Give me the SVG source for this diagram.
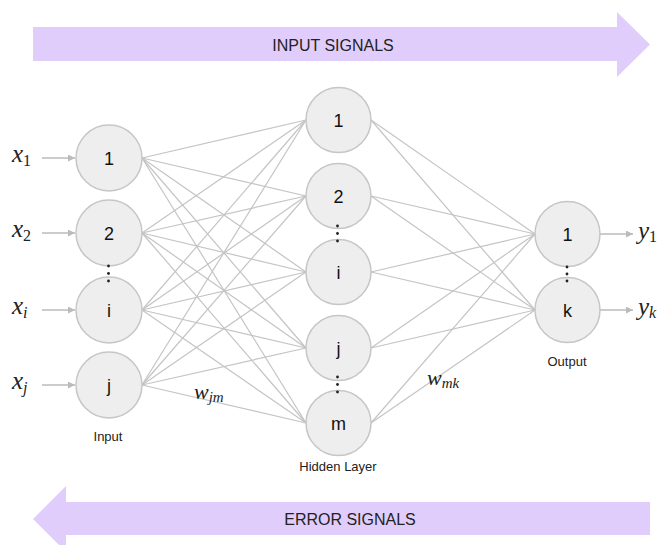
<svg xmlns="http://www.w3.org/2000/svg" width="662" height="545" viewBox="0 0 662 545">
<defs>
<style>
.bg{fill:#ffffff}
.band{fill:#e1cdfb}
.band-t{font-family:"Liberation Sans",Arial,sans-serif;font-size:16px;fill:#222;text-anchor:middle}
.node circle{fill:#eeeeee;stroke:#c6c6c6;stroke-width:1.5}
.node text{font-family:"Liberation Sans",Arial,sans-serif;font-size:18px;fill:#111;text-anchor:middle}
.conn line{stroke:#c4c4c4;stroke-width:1.2}
.io line{stroke:#bbbbbb;stroke-width:1.4}
.dot{fill:#222}
.lbl{font-family:"Liberation Sans",Arial,sans-serif;font-size:13px;fill:#222;text-anchor:middle}
.m{font-family:"Liberation Serif","Times New Roman",serif;font-style:italic;fill:#222}
.up{font-style:normal}
</style>
<marker id="ah" viewBox="0 0 10 10" refX="10" refY="5" markerWidth="9" markerHeight="7" markerUnits="userSpaceOnUse" orient="auto">
<path d="M0,0 L10,5 L0,10 z" fill="#bbbbbb"/>
</marker>
</defs>
<rect class="bg" x="0" y="0" width="662" height="545"/>

<g id="input-signals">
<polygon class="band" points="33,27 617,27 617,12 650,44.5 617,77 617,61 33,61"/>
<text class="band-t" x="333" y="50.5">INPUT SIGNALS</text>
</g>
<g id="error-signals">
<polygon class="band" points="650,502 66,502 66,486 33,519 66,552 66,535 650,535"/>
<text class="band-t" x="350" y="524.5">ERROR SIGNALS</text>
</g>

<g id="connectors" class="conn">
<line x1="142" y1="158" x2="306" y2="120"/><line x1="142" y1="158" x2="306" y2="196"/><line x1="142" y1="158" x2="306" y2="272"/><line x1="142" y1="158" x2="306" y2="348"/><line x1="142" y1="158" x2="306" y2="423"/>
<line x1="142" y1="233" x2="306" y2="120"/><line x1="142" y1="233" x2="306" y2="196"/><line x1="142" y1="233" x2="306" y2="272"/><line x1="142" y1="233" x2="306" y2="348"/><line x1="142" y1="233" x2="306" y2="423"/>
<line x1="142" y1="310" x2="306" y2="120"/><line x1="142" y1="310" x2="306" y2="196"/><line x1="142" y1="310" x2="306" y2="272"/><line x1="142" y1="310" x2="306" y2="348"/><line x1="142" y1="310" x2="306" y2="423"/>
<line x1="142" y1="385" x2="306" y2="120"/><line x1="142" y1="385" x2="306" y2="196"/><line x1="142" y1="385" x2="306" y2="272"/><line x1="142" y1="385" x2="306" y2="348"/><line x1="142" y1="385" x2="306" y2="423"/>
<line x1="371" y1="120" x2="535" y2="234"/><line x1="371" y1="120" x2="535" y2="310"/>
<line x1="371" y1="196" x2="535" y2="234"/><line x1="371" y1="196" x2="535" y2="310"/>
<line x1="371" y1="272" x2="535" y2="234"/><line x1="371" y1="272" x2="535" y2="310"/>
<line x1="371" y1="348" x2="535" y2="234"/><line x1="371" y1="348" x2="535" y2="310"/>
<line x1="371" y1="423" x2="535" y2="234"/><line x1="371" y1="423" x2="535" y2="310"/>
</g>

<g id="io-arrows" class="io">
<line x1="42" y1="158" x2="75" y2="158" marker-end="url(#ah)"/>
<line x1="42" y1="233" x2="75" y2="233" marker-end="url(#ah)"/>
<line x1="42" y1="310" x2="75" y2="310" marker-end="url(#ah)"/>
<line x1="42" y1="385" x2="75" y2="385" marker-end="url(#ah)"/>
<line x1="600" y1="234" x2="633" y2="234" marker-end="url(#ah)"/>
<line x1="600" y1="310" x2="633" y2="310" marker-end="url(#ah)"/>
</g>

<g id="in1" class="node"><circle cx="109" cy="158" r="33"/><text x="109" y="164.5">1</text></g>
<g id="in2" class="node"><circle cx="109" cy="233" r="33"/><text x="109" y="239.5">2</text></g>
<g id="ini" class="node"><circle cx="109" cy="310" r="33"/><text x="109" y="316.5">i</text></g>
<g id="inj" class="node"><circle cx="109" cy="385" r="33"/><text x="109" y="391.5">j</text></g>

<g id="h1" class="node"><circle cx="338.5" cy="120" r="32.5"/><text x="338.5" y="126.5">1</text></g>
<g id="h2" class="node"><circle cx="338.5" cy="196" r="32.5"/><text x="338.5" y="202.5">2</text></g>
<g id="hi" class="node"><circle cx="338.5" cy="272" r="32.5"/><text x="338.5" y="278.5">i</text></g>
<g id="hj" class="node"><circle cx="338.5" cy="348" r="32.5"/><text x="338.5" y="354.5">j</text></g>
<g id="hm" class="node"><circle cx="338.5" cy="423" r="32.5"/><text x="338.5" y="429.5">m</text></g>

<g id="o1" class="node"><circle cx="567.5" cy="234" r="32.5"/><text x="567.5" y="240.5">1</text></g>
<g id="ok" class="node"><circle cx="567.5" cy="310" r="32.5"/><text x="567.5" y="316.5">k</text></g>

<g id="ellipses">
<circle class="dot" cx="108.5" cy="266" r="1.4"/><circle class="dot" cx="108.5" cy="273.5" r="1.4"/><circle class="dot" cx="108.5" cy="281" r="1.4"/>
<circle class="dot" cx="337.5" cy="226" r="1.4"/><circle class="dot" cx="337.5" cy="233.5" r="1.4"/><circle class="dot" cx="337.5" cy="241" r="1.4"/>
<circle class="dot" cx="337.5" cy="377" r="1.4"/><circle class="dot" cx="337.5" cy="384.5" r="1.4"/><circle class="dot" cx="337.5" cy="392" r="1.4"/>
<circle class="dot" cx="567" cy="267" r="1.4"/><circle class="dot" cx="567" cy="274" r="1.4"/><circle class="dot" cx="567" cy="281" r="1.4"/>
</g>

<g id="labels">
<text class="lbl" x="108" y="441">Input</text>
<text class="lbl" x="338" y="471">Hidden Layer</text>
<text class="lbl" x="567" y="366">Output</text>
</g>

<g id="math" class="m">
<text x="12" y="162" font-size="25">x<tspan class="up" font-size="16" dy="4">1</tspan></text>
<text x="12" y="237" font-size="25">x<tspan class="up" font-size="16" dy="4">2</tspan></text>
<text x="12" y="314" font-size="25">x<tspan font-size="16" dy="4">i</tspan></text>
<text x="12" y="389" font-size="25">x<tspan font-size="16" dy="4">j</tspan></text>
<text x="638" y="239" font-size="25">y<tspan class="up" font-size="16" dy="3">1</tspan></text>
<text x="638" y="315" font-size="25">y<tspan font-size="16" dy="3">k</tspan></text>
<text x="194" y="399" font-size="22">w<tspan font-size="15" dy="3">jm</tspan></text>
<text x="427" y="385" font-size="22">w<tspan font-size="15" dy="3">mk</tspan></text>
</g>
</svg>
